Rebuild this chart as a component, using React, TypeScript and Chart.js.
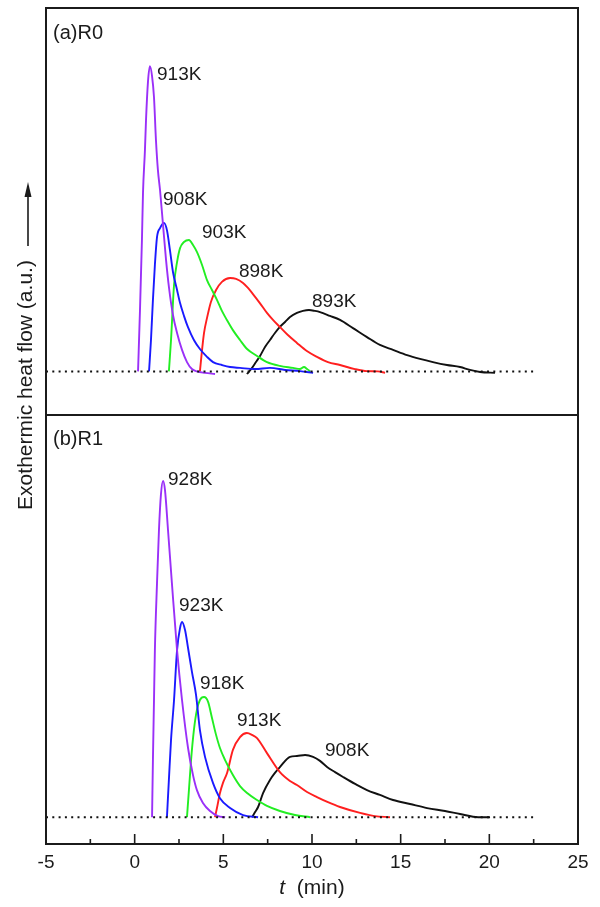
import { useEffect, useRef } from "react";
import { Chart, registerables } from "chart.js";

Chart.register(...registerables);

const FONT = '"Liberation Sans", Arial, Helvetica, sans-serif';

// Time axis (min)
const T_MIN = -5;
const T_MAX = 25;
const T_STEP = 5;
const BASELINE_END = 22.5;

// (a) R0 — isothermal DSC traces, time (min) and heat flow (a.u.)
const r0_913_t = [0.19, 0.3, 0.41, 0.47, 0.58, 0.64, 0.75, 0.86, 0.98, 1.09, 1.2, 1.31, 1.43, 1.6, 1.77, 1.94, 2.16, 2.39, 2.67, 2.95, 3.23, 3.51, 3.96, 4.53];
const r0_913_h = [0, 0.211, 0.452, 0.614, 0.762, 0.865, 0.996, 1.05, 1.016, 0.943, 0.796, 0.693, 0.624, 0.503, 0.383, 0.286, 0.194, 0.132, 0.074, 0.032, 0.008, 0, -0.005, -0.009];

const r0_908_t = [0.81, 0.92, 1.03, 1.14, 1.26, 1.43, 1.65, 1.82, 1.99, 2.16, 2.39, 2.56, 2.78, 3.0, 3.34, 3.68, 4.08, 4.42, 4.92, 5.38, 5.94, 6.79, 7.63, 8.48, 9.32, 10.06];
const r0_908_h = [0, 0.108, 0.246, 0.366, 0.462, 0.493, 0.511, 0.486, 0.417, 0.342, 0.28, 0.235, 0.191, 0.153, 0.108, 0.077, 0.05, 0.032, 0.022, 0.015, 0.012, 0.008, 0.012, 0.005, 0.001, -0.005];

const r0_903_t = [1.93, 2.05, 2.22, 2.39, 2.56, 2.78, 3.06, 3.29, 3.51, 3.8, 4.08, 4.36, 4.64, 4.92, 5.2, 5.54, 5.94, 6.34, 6.9, 7.46, 8.19, 8.93, 9.32, 9.55, 9.72, 9.89];
const r0_903_h = [0, 0.108, 0.297, 0.376, 0.424, 0.445, 0.452, 0.435, 0.411, 0.366, 0.314, 0.28, 0.246, 0.208, 0.177, 0.142, 0.108, 0.077, 0.053, 0.032, 0.019, 0.012, 0.008, 0.015, 0.008, 0];

const r0_898_t = [3.68, 3.8, 3.91, 4.08, 4.3, 4.59, 4.92, 5.38, 5.72, 6.11, 6.39, 6.67, 7.06, 7.46, 7.8, 8.19, 8.64, 9.15, 9.71, 10.28, 10.9, 11.58, 12.42, 13.1, 13.72, 14.12];
const r0_898_h = [0, 0.074, 0.132, 0.184, 0.239, 0.28, 0.308, 0.321, 0.318, 0.304, 0.287, 0.266, 0.235, 0.201, 0.177, 0.153, 0.125, 0.098, 0.07, 0.05, 0.032, 0.022, 0.008, 0.001, 0, -0.005];

const r0_893_t = [6.33, 6.62, 6.84, 7.07, 7.35, 7.63, 7.91, 8.19, 8.48, 8.76, 9.15, 9.49, 9.83, 10.17, 10.45, 11.01, 11.58, 12.31, 13.1, 13.83, 14.57, 15.36, 16.09, 16.82, 17.61, 18.35, 18.91, 19.48, 20.32];
const r0_893_h = [-0.009, 0.012, 0.032, 0.053, 0.084, 0.108, 0.132, 0.153, 0.17, 0.187, 0.201, 0.208, 0.211, 0.208, 0.204, 0.191, 0.177, 0.149, 0.118, 0.091, 0.074, 0.056, 0.043, 0.032, 0.022, 0.015, 0.005, -0.002, -0.005];

// (b) R1
const r1_928_t = [0.98, 1.03, 1.09, 1.14, 1.26, 1.37, 1.48, 1.6, 1.71, 1.88, 2.1, 2.39, 2.67, 3.01, 3.29, 3.51, 3.85, 4.25, 4.7, 5.1];
const r1_928_h = [0, 0.214, 0.437, 0.623, 0.873, 1.071, 1.202, 1.254, 1.22, 1.071, 0.873, 0.623, 0.437, 0.258, 0.157, 0.101, 0.053, 0.023, 0.004, 0];

const r1_923_t = [1.82, 1.93, 2.05, 2.22, 2.39, 2.56, 2.67, 2.84, 3.01, 3.23, 3.46, 3.68, 3.97, 4.42, 4.81, 5.38, 6.11, 6.96];
const r1_923_h = [0, 0.139, 0.288, 0.437, 0.623, 0.706, 0.728, 0.698, 0.631, 0.542, 0.456, 0.325, 0.224, 0.127, 0.071, 0.034, 0.008, 0];

const r1_918_t = [2.95, 3.06, 3.18, 3.34, 3.51, 3.68, 3.91, 4.14, 4.36, 4.59, 4.81, 5.1, 5.54, 5.94, 6.34, 6.9, 7.46, 8.19, 9.04, 9.89];
const r1_918_h = [0, 0.101, 0.213, 0.325, 0.4, 0.437, 0.448, 0.43, 0.37, 0.307, 0.258, 0.213, 0.157, 0.116, 0.09, 0.064, 0.042, 0.023, 0.008, 0];

const r1_913_t = [4.53, 4.64, 4.81, 4.98, 5.21, 5.54, 5.94, 6.33, 6.62, 6.9, 7.46, 8.19, 8.76, 9.15, 9.72, 10.28, 10.9, 11.58, 12.71, 13.55, 14.4];
const r1_913_h = [0, 0.034, 0.09, 0.128, 0.165, 0.251, 0.299, 0.314, 0.307, 0.295, 0.239, 0.168, 0.135, 0.12, 0.094, 0.075, 0.056, 0.038, 0.016, 0.004, 0];

const r1_908_t = [6.62, 6.79, 6.96, 7.24, 7.63, 7.91, 8.19, 8.76, 9.15, 9.61, 10.06, 10.45, 10.85, 11.3, 11.75, 12.43, 13.1, 13.83, 14.57, 15.53, 16.49, 17.5, 18.35, 19.37, 20.04];
const r1_908_h = [0, 0.019, 0.038, 0.09, 0.139, 0.165, 0.187, 0.225, 0.228, 0.232, 0.225, 0.21, 0.187, 0.168, 0.15, 0.124, 0.101, 0.083, 0.064, 0.049, 0.034, 0.023, 0.012, 0, 0];

// Temperature labels placed beside each peak (time, heat flow)
const r0_labels = ["913K", "908K", "903K", "898K", "893K"];
const r0_label_t = [1.26, 1.6, 3.8, 5.88, 10.0];
const r0_label_h = [1.002, 0.571, 0.459, 0.325, 0.222];

const r1_labels = ["928K", "923K", "918K", "913K", "908K"];
const r1_label_t = [1.88, 2.5, 3.68, 5.77, 10.73];
const r1_label_h = [1.239, 0.769, 0.478, 0.34, 0.228];

const COLORS = ["#9a30f8", "#1a1aff", "#22ee22", "#ff1f1f", "#111111"];

const zip = (t: number[], h: number[]) => t.map((x, i) => ({ x, y: h[i] }));

function line(t: number[], h: number[], color: string, yAxisID: string) {
  return {
    data: zip(t, h),
    borderColor: color,
    borderWidth: 1.9,
    pointRadius: 0,
    fill: false,
    cubicInterpolationMode: "monotone" as const,
    yAxisID,
  };
}

function baseline(yAxisID: string) {
  return {
    data: [
      { x: T_MIN, y: 0 },
      { x: BASELINE_END, y: 0 },
    ],
    borderColor: "#111111",
    borderWidth: 2,
    borderDash: [2, 4.3],
    pointRadius: 0,
    fill: false,
    yAxisID,
  };
}

const framePlugin = {
  id: "panelFrame",
  afterDraw(chart: any) {
    const { ctx, chartArea: a, scales } = chart;
    const x = scales.x;
    const yA = scales.yA;
    const yB = scales.yB;
    ctx.save();

    // outer frame and panel divider
    ctx.strokeStyle = "#1b1b1b";
    ctx.lineWidth = 2;
    ctx.strokeRect(a.left, a.top, a.right - a.left, a.bottom - a.top);
    ctx.beginPath();
    ctx.moveTo(a.left, yA.bottom);
    ctx.lineTo(a.right, yA.bottom);
    ctx.stroke();

    // inward ticks on the time axis
    ctx.lineWidth = 1.6;
    for (let v = T_MIN; v <= T_MAX + 1e-9; v += T_STEP / 2) {
      const px = x.getPixelForValue(v);
      const major = Math.abs(v / T_STEP - Math.round(v / T_STEP)) < 1e-6;
      const len = major ? 10 : 5;
      ctx.beginPath();
      ctx.moveTo(px, a.bottom);
      ctx.lineTo(px, a.bottom - len);
      ctx.stroke();
    }

    // peak labels
    ctx.fillStyle = "#1b1b1b";
    ctx.font = `19px ${FONT}`;
    ctx.textAlign = "left";
    ctx.textBaseline = "alphabetic";
    r0_labels.forEach((s, i) => {
      ctx.fillText(s, x.getPixelForValue(r0_label_t[i]), yA.getPixelForValue(r0_label_h[i]));
    });
    r1_labels.forEach((s, i) => {
      ctx.fillText(s, x.getPixelForValue(r1_label_t[i]), yB.getPixelForValue(r1_label_h[i]));
    });

    // panel captions
    ctx.font = `20px ${FONT}`;
    ctx.fillText("(a)R0", a.left + 7, yA.top + 31);
    ctx.fillText("(b)R1", a.left + 7, yB.top + 30);

    // time axis title: italic t, then unit
    ctx.font = `italic 21px ${FONT}`;
    const tW = ctx.measureText("t").width;
    ctx.font = `21px ${FONT}`;
    const restW = ctx.measureText("  (min)").width;
    const cx = (a.left + a.right) / 2;
    const startX = cx - (tW + restW) / 2;
    ctx.font = `italic 21px ${FONT}`;
    ctx.fillText("t", startX, 894);
    ctx.font = `21px ${FONT}`;
    ctx.fillText("  (min)", startX + tW, 894);

    // heat-flow title with arrow
    ctx.save();
    ctx.translate(31.5, 385);
    ctx.rotate(-Math.PI / 2);
    ctx.textAlign = "center";
    ctx.font = `21px ${FONT}`;
    ctx.fillText("Exothermic heat flow (a.u.)", 0, 0);
    ctx.restore();

    ctx.strokeStyle = "#1b1b1b";
    ctx.lineWidth = 1.6;
    ctx.beginPath();
    ctx.moveTo(28, 246);
    ctx.lineTo(28, 194);
    ctx.stroke();
    ctx.beginPath();
    ctx.moveTo(28, 182);
    ctx.lineTo(24.5, 197);
    ctx.lineTo(31.5, 197);
    ctx.closePath();
    ctx.fill();

    ctx.restore();
  },
};

export default function App() {
  const canvasRef = useRef<HTMLCanvasElement | null>(null);

  useEffect(() => {
    const canvas = canvasRef.current;
    if (!canvas) return;

    const datasets = [
      baseline("yA"),
      line(r0_913_t, r0_913_h, COLORS[0], "yA"),
      line(r0_908_t, r0_908_h, COLORS[1], "yA"),
      line(r0_903_t, r0_903_h, COLORS[2], "yA"),
      line(r0_898_t, r0_898_h, COLORS[3], "yA"),
      line(r0_893_t, r0_893_h, COLORS[4], "yA"),
      baseline("yB"),
      line(r1_928_t, r1_928_h, COLORS[0], "yB"),
      line(r1_923_t, r1_923_h, COLORS[1], "yB"),
      line(r1_918_t, r1_918_h, COLORS[2], "yB"),
      line(r1_913_t, r1_913_h, COLORS[3], "yB"),
      line(r1_908_t, r1_908_h, COLORS[4], "yB"),
    ];

    const hiddenAxis = {
      type: "linear" as const,
      position: "left" as const,
      stack: "panels",
      ticks: { display: false },
      grid: { display: false, drawTicks: false },
      border: { display: false },
      afterFit: (s: any) => {
        s.width = 0;
      },
    };

    const chart = new Chart(canvas, {
      type: "line",
      data: { datasets: datasets as any },
      options: {
        animation: false,
        responsive: false,
        devicePixelRatio: 1,
        layout: { padding: { left: 46, right: 22, top: 8, bottom: 0 } },
        plugins: {
          legend: { display: false },
          tooltip: { enabled: false },
        },
        scales: {
          x: {
            type: "linear",
            min: T_MIN,
            max: T_MAX,
            ticks: {
              stepSize: T_STEP,
              font: { family: FONT, size: 19 },
              color: "#1b1b1b",
              padding: 7,
              maxRotation: 0,
              autoSkip: false,
            },
            grid: { display: false, drawTicks: false },
            border: { display: false },
            afterFit: (s: any) => {
              s.height = 63;
            },
          },
          yA: { ...hiddenAxis, min: -0.15, max: 1.25, stackWeight: 407, weight: 2 },
          yB: { ...hiddenAxis, min: -0.1, max: 1.5, stackWeight: 429, weight: 1 },
        } as any,
      },
      plugins: [framePlugin],
    });

    return () => chart.destroy();
  }, []);

  return (
    <div style={{ position: "absolute", left: 0, top: 0, width: 600, height: 907, background: "#fff" }}>
      <canvas ref={canvasRef} width={600} height={907} style={{ width: 600, height: 907, display: "block" }} />
    </div>
  );
}
